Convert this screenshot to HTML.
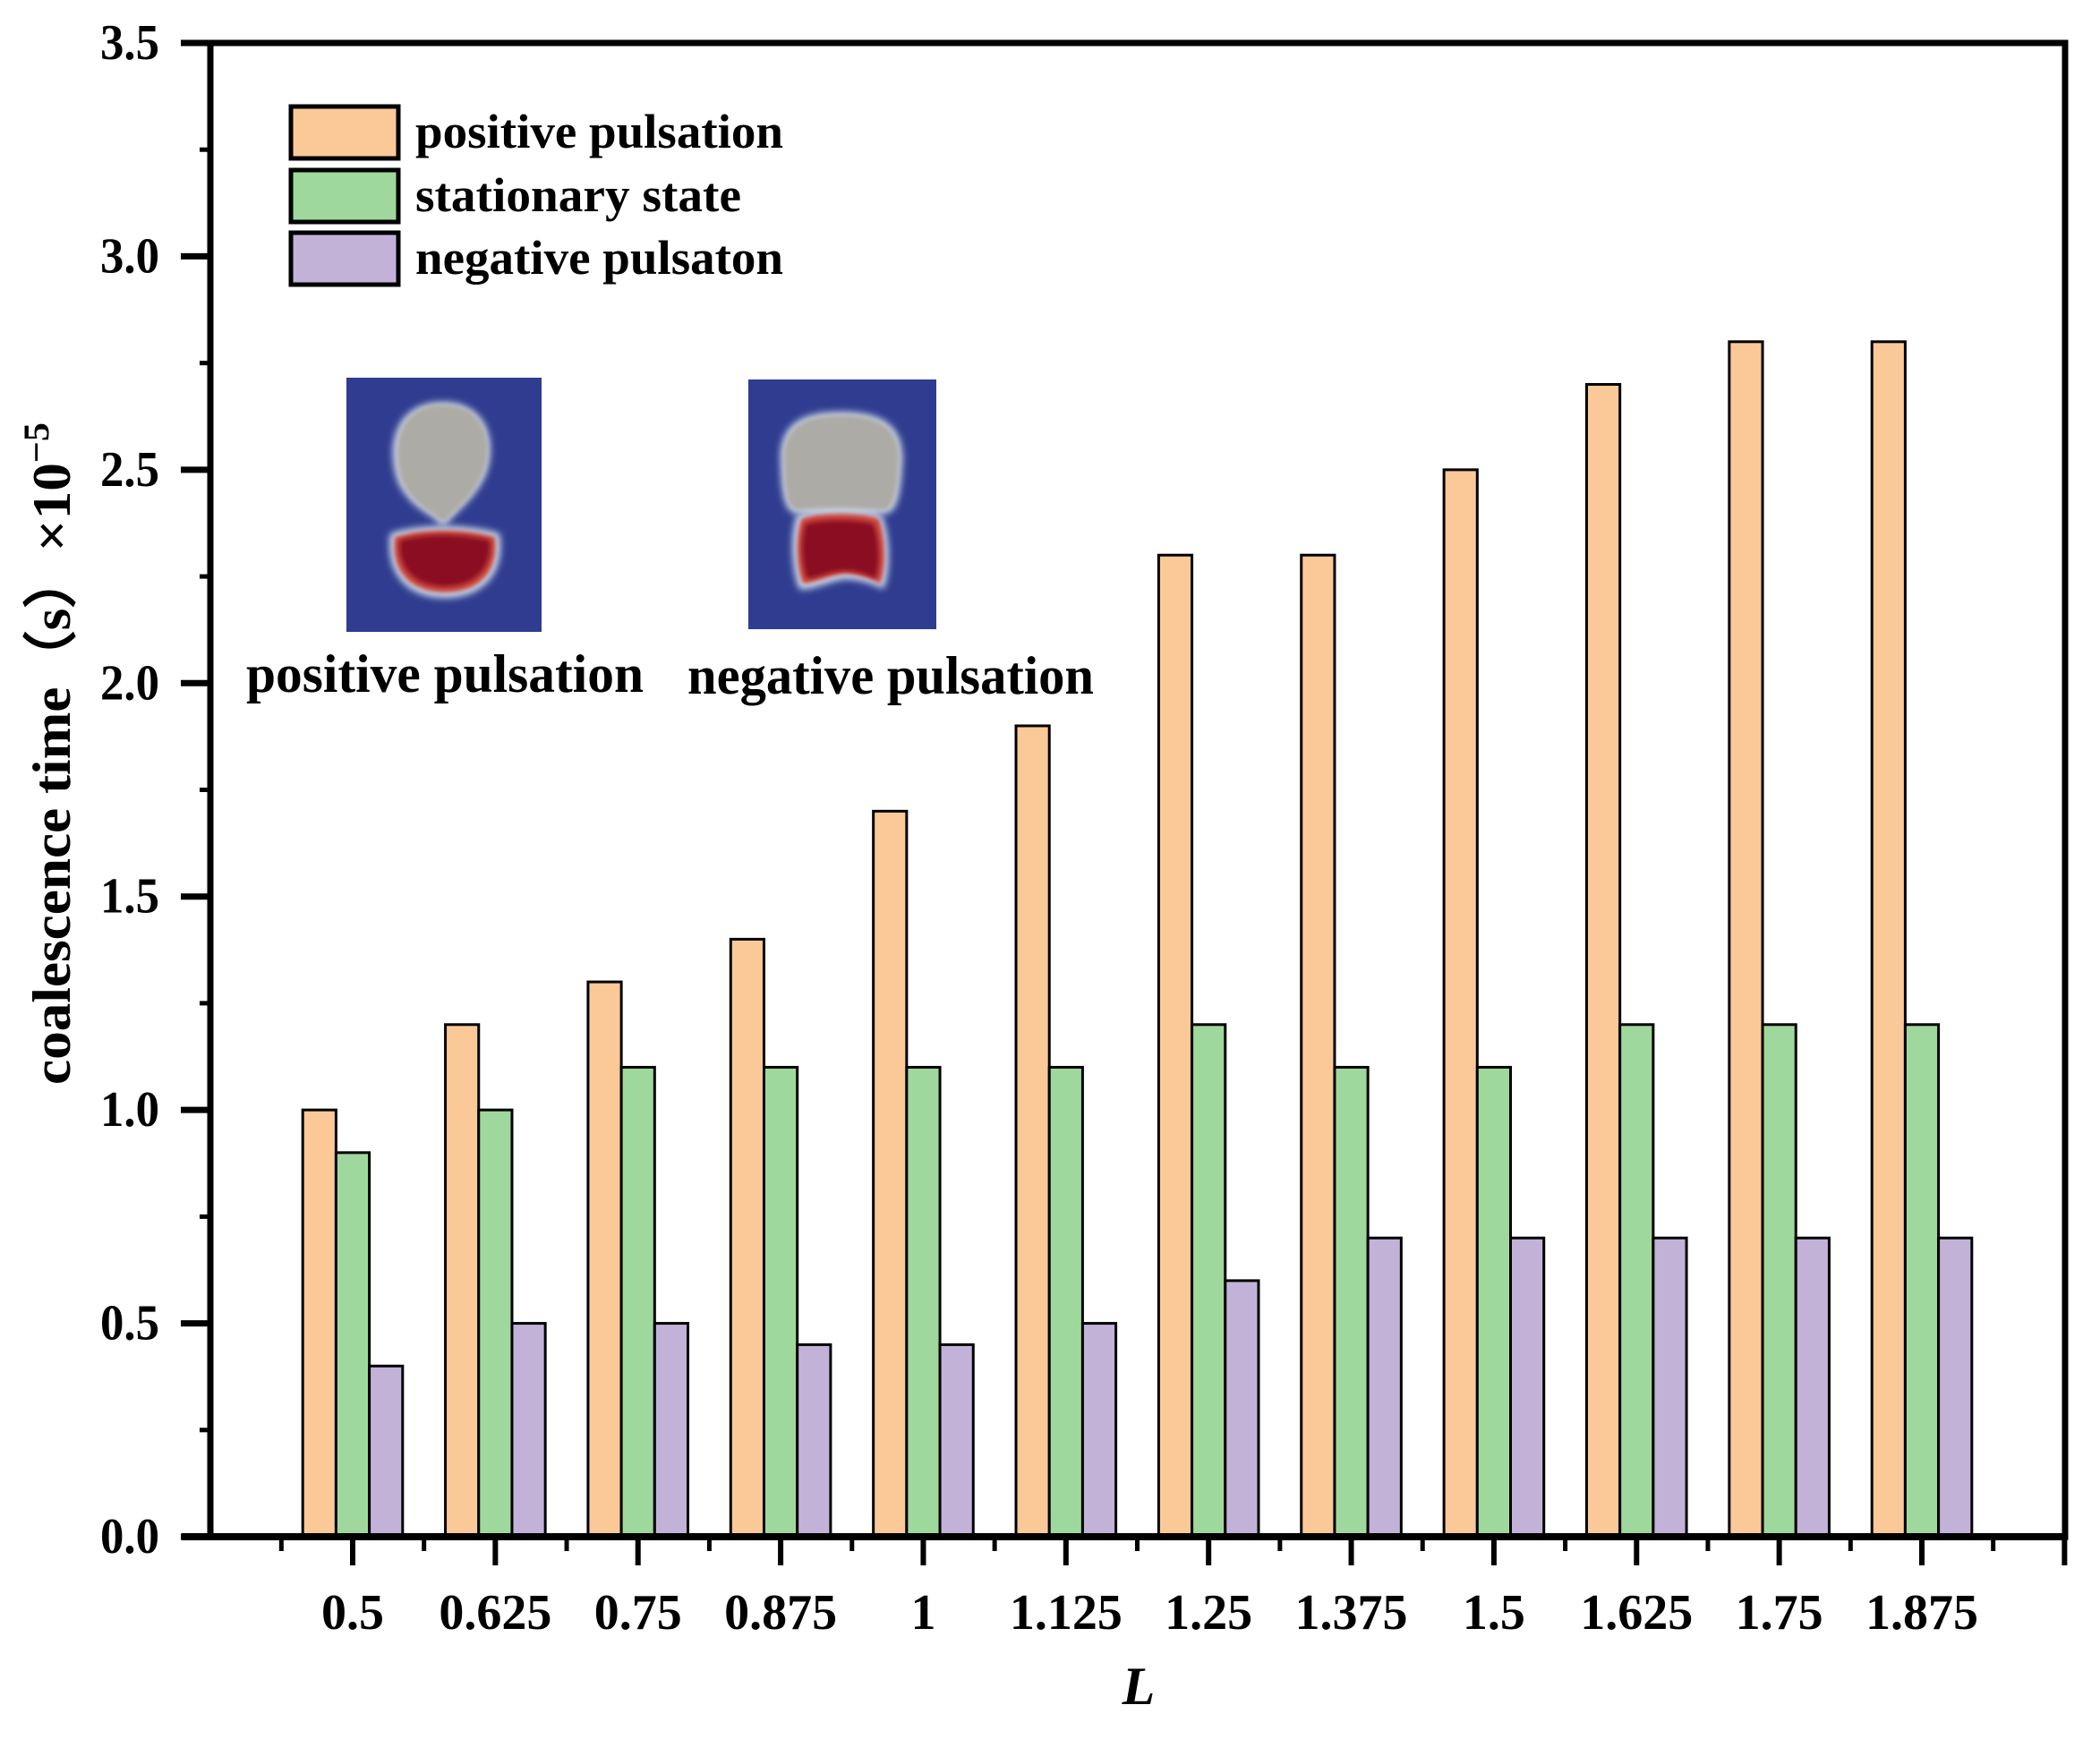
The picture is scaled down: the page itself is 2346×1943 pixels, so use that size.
<!DOCTYPE html>
<html><head><meta charset="utf-8"><style>
html,body{margin:0;padding:0;background:#fff;}
svg{display:block;}
text{font-family:"Liberation Serif",serif;font-weight:bold;fill:#000;}
</style></head><body>
<svg id="chart" width="2346" height="1943" viewBox="0 0 2346 1943" xmlns="http://www.w3.org/2000/svg">
<defs>
<filter id="blur" x="-20%" y="-20%" width="140%" height="140%"><feGaussianBlur stdDeviation="4"/></filter>
<filter id="blur2" x="-20%" y="-20%" width="140%" height="140%"><feGaussianBlur stdDeviation="2.5"/></filter>
</defs>
<g id="bars"></g>
<g id="axes"></g>
<g>
<rect x="325" y="119" width="120" height="58" fill="#fbc898" stroke="#000" stroke-width="5"/>
<rect x="325" y="190" width="120" height="58" fill="#9fd89c" stroke="#000" stroke-width="5"/>
<rect x="325" y="260" width="120" height="58" fill="#c3b2d8" stroke="#000" stroke-width="5"/>
<text x="464" y="165" font-size="54" textLength="411" lengthAdjust="spacingAndGlyphs">positive pulsation</text>
<text x="464" y="236" font-size="54" textLength="364" lengthAdjust="spacingAndGlyphs">stationary state</text>
<text x="464" y="306" font-size="54" textLength="411" lengthAdjust="spacingAndGlyphs">negative pulsaton</text>
</g>
<g>
<rect x="387" y="422" width="218" height="284" fill="#303c8f"/>
<path d="M495,449 C440,449 430,500 445,540 C460,570 485,575 491,586 L499,586 C505,575 530,560 543,530 C556,495 545,449 495,449 Z" fill="#c9d6e6" filter="url(#blur)"/>
<path d="M495,452 C445,452 436,500 449,538 C462,566 485,572 492,582 L498,582 C505,572 528,558 540,528 C552,495 543,452 495,452 Z" fill="#adaba6" filter="url(#blur2)"/>
<path d="M436,596 C470,585 520,585 558,596 C565,640 540,668 497,668 C454,668 430,640 436,596 Z" fill="#cfe0f0" filter="url(#blur)"/>
<path d="M441,600 C472,590 518,590 553,600 C558,638 536,662 497,662 C458,662 436,638 441,600 Z" fill="#c8453a" filter="url(#blur2)"/>
<path d="M447,604 C474,596 516,596 547,604 C550,634 531,655 497,655 C463,655 444,634 447,604 Z" fill="#8b0720" filter="url(#blur2)"/>
</g>
<g>
<rect x="836" y="424" width="210" height="279" fill="#303c8f"/>
<path d="M872,520 C868,470 900,460 940,460 C985,460 1012,475 1008,520 C1006,560 1000,572 990,574 L890,574 C878,572 873,558 872,520 Z" fill="#c9d6e6" filter="url(#blur)"/>
<path d="M876,520 C872,474 902,464 940,464 C982,464 1008,478 1004,520 C1002,556 996,568 988,570 L892,570 C880,568 877,556 876,520 Z" fill="#adaba6" filter="url(#blur2)"/>
<path d="M890,576 C905,568 970,568 985,576 C995,600 995,640 987,658 C970,650 950,645 938,648 C920,652 905,660 893,658 C885,640 882,600 890,576 Z" fill="#cfe0f0" filter="url(#blur)"/>
<path d="M895,580 C910,572 968,572 982,580 C990,602 990,638 983,652 C968,644 950,640 938,642 C922,645 908,652 897,652 C890,636 888,602 895,580 Z" fill="#c8453a" filter="url(#blur2)"/>
<path d="M900,586 C915,580 962,580 976,586 C983,606 983,634 978,646 C964,640 950,636 938,638 C922,640 912,646 902,646 C896,632 894,606 900,586 Z" fill="#8b0720" filter="url(#blur2)"/>
</g>
<text x="275" y="773" font-size="60" textLength="444" lengthAdjust="spacingAndGlyphs">positive pulsation</text>
<text x="768" y="775" font-size="60" textLength="454" lengthAdjust="spacingAndGlyphs">negative pulsation</text>
<text transform="translate(78,1212) rotate(-90)" font-size="60" textLength="740" lengthAdjust="spacingAndGlyphs">coalescence time（s）×10<tspan font-size="40" dy="-24">−5</tspan></text>
<text x="1272" y="1904" font-size="60" font-style="italic" text-anchor="middle">L</text>
</svg>
<script>
const categories = ["0.5","0.625","0.75","0.875","1","1.125","1.25","1.375","1.5","1.625","1.75","1.875"];
const positive = [1.0,1.2,1.3,1.4,1.7,1.9,2.3,2.3,2.5,2.7,2.8,2.8];
const stationary = [0.9,1.0,1.1,1.1,1.1,1.1,1.2,1.1,1.1,1.2,1.2,1.2];
const negative = [0.4,0.5,0.5,0.45,0.45,0.5,0.6,0.7,0.7,0.7,0.7,0.7];
const yTicks = ["0.0","0.5","1.0","1.5","2.0","2.5","3.0","3.5"];

const NS = "http://www.w3.org/2000/svg";
const X0 = 235, X1 = 2307, Y0 = 1717, Y1 = 48, YMAX = 3.5;
const step = (2147 - 394) / 11;
const bw = 37.2;
function xCenter(i){ return 394 + i * step; }
function yPos(v){ return Y0 - (v / YMAX) * (Y0 - Y1); }
function mk(tag, attrs, parent){
  const e = document.createElementNS(NS, tag);
  for (const k in attrs) e.setAttribute(k, attrs[k]);
  parent.appendChild(e);
  return e;
}
const barsG = document.getElementById('bars');
const series = [[positive,"#fbc898","positive"],[stationary,"#9fd89c","stationary"],[negative,"#c3b2d8","negative"]];
series.forEach(function(s, si){
  s[0].forEach(function(v, i){
    const x = xCenter(i) + (si - 1.5) * bw;
    const r = mk('rect', {x:x, y:yPos(v), width:bw, height:Y0 - yPos(v), fill:s[1], stroke:'#000', 'stroke-width':3}, barsG);
    
    
  });
});
const ax = document.getElementById('axes');
const frame = mk('rect', {x:X0, y:Y1, width:X1 - X0, height:Y0 - Y1, fill:'none', stroke:'#000', 'stroke-width':7}, ax);


const xl = mk('line', {x1:203, y1:Y0, x2:X1 + 3, y2:Y0, stroke:'#000', 'stroke-width':8}, ax);


for (let k = 0; k <= 14; k++){
  const v = k * 0.25, y = yPos(v);
  const major = k % 2 === 0;
  const t = mk('line', {x1:X0 - (major ? 33 : 12), y1:y, x2:X0, y2:y, stroke:'#000', 'stroke-width':major ? 7 : 5}, ax);
  
  
}
yTicks.forEach(function(lbl){
  const t = mk('text', {x:178, y:yPos(parseFloat(lbl)) + 18, 'font-size':56, 'text-anchor':'end', textLength:66, lengthAdjust:'spacingAndGlyphs'}, ax);
  t.textContent = lbl;
  
  
});
for (let k = -1; k <= 24; k++){
  const x = 394 + k * step / 2;
  if (x < X0 - 2 || x > X1 + 2) continue;
  const major = (k % 2 === 0) || x > X1 - 2 || x < X0 + 2;
  const t = mk('line', {x1:x, y1:Y0, x2:x, y2:Y0 + (major ? 32 : 16), stroke:'#000', 'stroke-width':major ? 6 : 5}, ax);
  
  
}
categories.forEach(function(c, i){
  const t = mk('text', {x:xCenter(i), y:1820, 'font-size':56, 'text-anchor':'middle'}, ax);
  t.textContent = c;
  
  
});
</script>
</body></html>
